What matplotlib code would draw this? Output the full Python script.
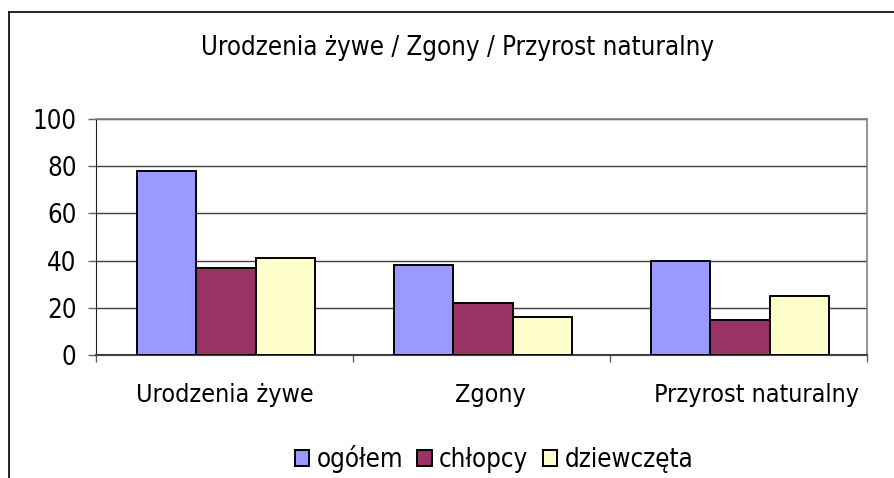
import numpy as np
import matplotlib
matplotlib.use('Agg')
import matplotlib.pyplot as plt
from matplotlib.lines import Line2D
from matplotlib.transforms import ScaledTranslation

# dane
categories = ['Urodzenia żywe', 'Zgony', 'Przyrost naturalny']
series_names = ['ogółem', 'chłopcy', 'dziewczęta']
ogolem = [78, 38, 40]
chlopcy = [37, 22, 15]
dziewczeta = [41, 16, 25]
yticks = [0, 20, 40, 60, 80, 100]

colors = ['#9999FF', '#993366', '#FFFFCC']
plt.rcParams['font.family'] = ['DejaVu Sans']
plt.rcParams['font.stretch'] = 'condensed'

fig = plt.figure(figsize=(8.94, 4.78), dpi=100)
ax = fig.add_axes([96 / 894, 1 - 355 / 478, 771 / 894, 236 / 478])

x = np.arange(len(categories))
w = 0.23
for i, (vals, name) in enumerate(zip([ogolem, chlopcy, dziewczeta], series_names)):
    ax.bar(x + (i - 1) * w + 0.006, vals, w, color=colors[i], edgecolor='black',
           linewidth=1.4, label=name, zorder=3)

ax.set_xlim(-0.5, 2.5)
ax.set_ylim(0, 100)
ax.set_yticks(yticks)
ax.set_yticklabels([str(v) for v in yticks], fontsize=18.5)
ax.yaxis.grid(True, color='#404040', linewidth=1, zorder=0)
ax.tick_params(axis='y', length=6, width=1, color='#606060', pad=8)

# granice kategorii jako ticki, nazwy jako minor
ax.set_xticks([-0.5, 0.5, 1.5, 2.5])
ax.set_xticklabels([])
ax.tick_params(axis='x', which='major', length=5, width=1, color='#606060')
ax.set_xticks(x, categories, minor=True)
ax.tick_params(axis='x', which='minor', length=0, pad=20, labelsize=18)
# Excel przesuwa etykiety lekko w prawo
for i, lab in enumerate(ax.get_xticklabels(minor=True)):
    lab.set_transform(lab.get_transform() +
                      ScaledTranslation(0.09 * i, 0, fig.dpi_scale_trans))

for s in ['top', 'right']:
    ax.spines[s].set_color('#808080')
    ax.spines[s].set_linewidth(1.2)
ax.spines['left'].set_color('#202020')
ax.spines['bottom'].set_color('#404040')
ax.spines['bottom'].set_linewidth(1.5)

fig.text(0.512, 1 - 48 / 478, 'Urodzenia żywe / Zgony / Przyrost naturalny',
         ha='center', va='center', fontsize=18.5)

fig.legend(loc='center', bbox_to_anchor=(494 / 894, 1 - 459 / 478), ncol=3,
           frameon=False, fontsize=18.5, handlelength=0.55, handleheight=0.55,
           handletextpad=0.3, columnspacing=0.55)

# ramka wykresu (przycięta po prawej i u dołu)
fig.add_artist(Line2D([9 / 894, 1.0], [1 - 12 / 478, 1 - 12 / 478],
                      color='black', linewidth=1.2, transform=fig.transFigure))
fig.add_artist(Line2D([9 / 894, 9 / 894], [0.0, 1 - 12 / 478],
                      color='black', linewidth=1.2, transform=fig.transFigure))

plt.savefig('out.png', dpi=100)
plt.close()
